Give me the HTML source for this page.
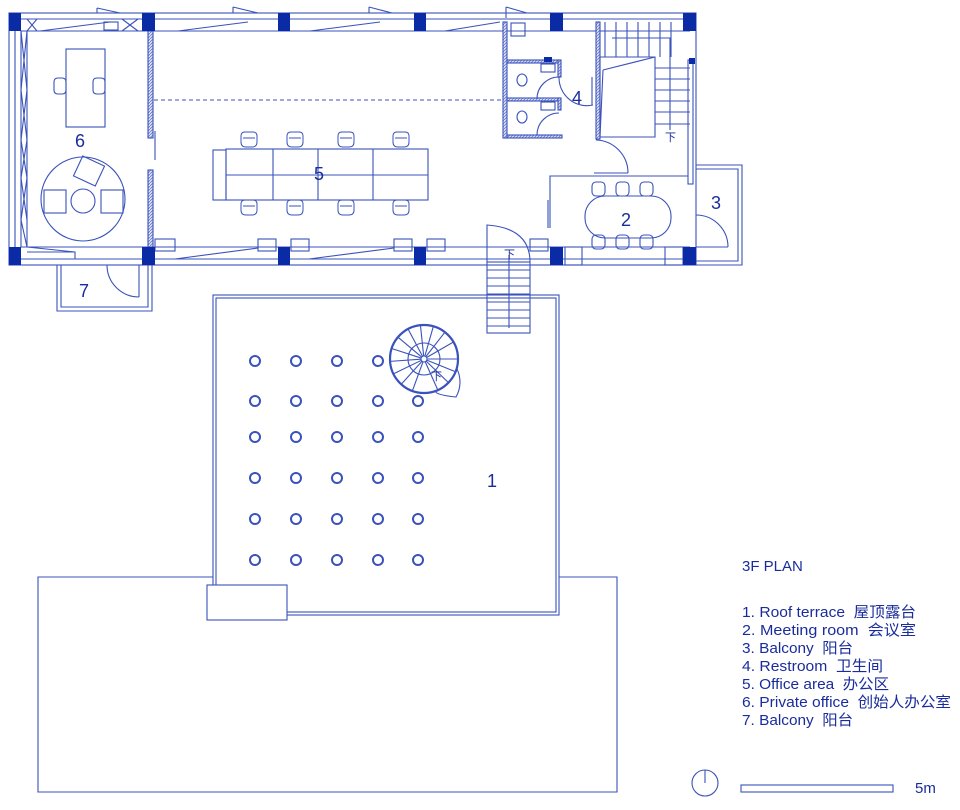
<!DOCTYPE html>
<html><head><meta charset="utf-8"><style>
html,body{margin:0;padding:0;background:#fff;}
svg{display:block;}
text{font-family:"Liberation Sans","Noto Sans CJK SC",sans-serif;fill:#1a2c9c;white-space:pre;}
</style></head><body>
<svg width="960" height="810" viewBox="0 0 960 810" xmlns="http://www.w3.org/2000/svg">
<defs>
<pattern id="h" width="3" height="3" patternUnits="userSpaceOnUse"><rect width="3" height="3" fill="#dfe3f5"/><path d="M0 3L3 0" stroke="#6676c8" stroke-width="0.8"/></pattern>
<path id="ch" d="M-8 -5q0-4 4-4h8q4 0 4 4v6q0 5-5 5h-6q-5 0-5-5z M-6 -3h12" fill="none" stroke="#3a52bc"/>
</defs>
<g fill="none" stroke="#3a52bc" stroke-width="1.1">
<!-- ground outline -->
<path d="M213 577H38V792H617V577H559"/>
<!-- terrace -->
<rect x="213" y="295" width="346" height="320"/>
<rect x="216" y="298" width="340" height="314"/>
<rect x="207" y="585" width="80" height="35" fill="#fff"/>
<!-- main building outer walls -->
<rect x="9" y="13" width="687" height="252"/>
<line x1="21" y1="19" x2="690" y2="19"/>
<line x1="21" y1="31" x2="690" y2="31"/>
<line x1="21" y1="247" x2="690" y2="247"/>
<line x1="21" y1="259" x2="690" y2="259"/>
<line x1="15" y1="31" x2="15" y2="247"/>
<line x1="21" y1="31" x2="21" y2="247"/>
<line x1="27" y1="31" x2="27" y2="247"/>
<path d="M21 31L27 90L21 140L27 178L21 220L27 247M27 31L21 90L27 140L21 178L27 220"/>
<!-- windows top -->
<path d="M97 8L120 13M97 8V13M233 7L258 13M233 7V13M369 7L392 13M369 7V13M506 7L527 13M506 7V18"/>
<path d="M40 31L110 22M178 31L248 22M310 31L380 22M445 31L500 22"/>
<rect x="104" y="22" width="14" height="8"/>
<path d="M27 19L37 31M37 19L27 31M122 19L138 31M138 19L122 31"/>
<!-- windows bottom -->
<rect x="155" y="239" width="20" height="12"/><rect x="258" y="239" width="18" height="12"/><rect x="291" y="239" width="18" height="12"/>
<rect x="394" y="239" width="18" height="12"/><rect x="427" y="239" width="18" height="12"/><rect x="530" y="239" width="18" height="12"/>
<path d="M175 259L258 248M309 259L394 248M155 259L258 259"/>
<path d="M27 252H75V259M27 247L75 252"/>
<!-- office divider -->
<rect x="148" y="31" width="5" height="107" fill="url(#h)"/>
<rect x="148" y="170" width="5" height="77" fill="url(#h)"/>
<line x1="155" y1="131" x2="155" y2="160"/>
<line x1="154" y1="100" x2="505" y2="100" stroke-dasharray="4 3"/>
<!-- private office -->
<rect x="66" y="49" width="39" height="78"/>
<path d="M54 82q0-4 4-4h4q4 0 4 4v8q0 4-4 4h-4q-4 0-4-4z"/>
<path d="M93 82q0-4 4-4h4q4 0 4 4v8q0 4-4 4h-4q-4 0-4-4z"/>
<circle cx="83" cy="199" r="42"/>
<circle cx="83" cy="201" r="12"/>
<rect x="44" y="190" width="22" height="23"/>
<rect x="101" y="190" width="22" height="23"/>
<rect x="77" y="160" width="24" height="22" transform="rotate(25 89 171)"/>
<!-- office table -->
<rect x="213" y="150" width="13" height="50"/>
<rect x="226" y="149" width="202" height="51"/>
<path d="M226 175H428M273 149V200M318 149V200M373 149V200"/>
</g>
<use href="#ch" x="249" y="141"/><use href="#ch" x="295" y="141"/><use href="#ch" x="346" y="141"/><use href="#ch" x="401" y="141"/>
<use href="#ch" x="249" y="209"/><use href="#ch" x="295" y="209"/><use href="#ch" x="346" y="209"/><use href="#ch" x="401" y="209"/>
<g fill="none" stroke="#3a52bc" stroke-width="1.1">
<!-- restroom -->
<rect x="503" y="22" width="4" height="116" fill="url(#h)"/>
<rect x="507" y="60" width="53" height="3" fill="url(#h)"/>
<rect x="507" y="98" width="53" height="3" fill="url(#h)"/>
<rect x="507" y="135" width="55" height="3" fill="url(#h)"/>
<rect x="558" y="60" width="3" height="17" fill="url(#h)"/>
<rect x="558" y="98" width="3" height="12" fill="url(#h)"/>
<rect x="511" y="23" width="14" height="13"/>
<rect x="541" y="64" width="14" height="8"/><rect x="541" y="102" width="14" height="8"/>
<ellipse cx="522" cy="80" rx="5" ry="6"/><ellipse cx="522" cy="117" rx="5" ry="6"/>
<path d="M537 99A22 22 0 0 1 559 77M559 77A28 28 0 0 0 593 105M537 135A22 22 0 0 1 559 113"/>
<line x1="592" y1="77" x2="592" y2="105"/>
<!-- stair -->
<rect x="596" y="22" width="4" height="117" fill="url(#h)"/>
<path d="M605 22V57M616 22V57M627 22V57M638 22V57M649 22V57M660 22V57M671 22V57"/>
<path d="M600 57H655V137H600Z M603 70L655 57M603 70L600 137"/>
<path d="M655 68H690M655 79H690M655 90H690M655 101H690M655 112H690M655 124H690"/>
<path d="M612 38H670V130"/>
<rect x="688" y="60" width="5" height="124"/>
<path d="M596 140A33 33 0 0 1 628 173M594 173H628"/>
<!-- meeting room -->
<path d="M550 228V176H688"/><line x1="548" y1="200" x2="548" y2="228"/>
<rect x="585" y="196" width="86" height="42" rx="20"/>
<rect x="592" y="182" width="13" height="14" rx="4"/><rect x="616" y="182" width="13" height="14" rx="4"/><rect x="640" y="182" width="13" height="14" rx="4"/>
<rect x="592" y="235" width="13" height="14" rx="4"/><rect x="616" y="235" width="13" height="14" rx="4"/><rect x="640" y="235" width="13" height="14" rx="4"/>
<rect x="565" y="247" width="17" height="18"/><rect x="665" y="247" width="18" height="18"/>
<!-- balcony 3 -->
<path d="M696 165H742V265H696M696 169H738V261H696"/>
<path d="M696 215A32 32 0 0 1 728 247M696 247H728"/>
<!-- balcony 7 -->
<path d="M57 265V311H152V265M61 265V307H148V265"/>
<path d="M107 265A32 32 0 0 0 139 297M139 265V297"/>
<!-- exterior stair -->
<rect x="487" y="262" width="43" height="71"/>
<path d="M487 270H530M487 278H530M487 286H530M487 294H530M487 302H530M487 310H530M487 318H530M487 326H530M509 255V328"/>
<path d="M487 262V225Q530 228 530 262"/>
<!-- spiral stair -->
<g transform="translate(424 359)">
<circle r="34" stroke-width="2.2"/><circle r="16"/><circle r="3"/>
<g><line x1="3" x2="34" transform="rotate(0)"/><line x1="3" x2="34" transform="rotate(22)"/><line x1="3" x2="34" transform="rotate(44)"/><line x1="3" x2="34" transform="rotate(66)"/><line x1="3" x2="34" transform="rotate(110)"/><line x1="3" x2="34" transform="rotate(132)"/><line x1="3" x2="34" transform="rotate(154)"/><line x1="3" x2="34" transform="rotate(176)"/><line x1="3" x2="34" transform="rotate(198)"/><line x1="3" x2="34" transform="rotate(220)"/><line x1="3" x2="34" transform="rotate(242)"/><line x1="3" x2="34" transform="rotate(264)"/><line x1="3" x2="34" transform="rotate(286)"/><line x1="3" x2="34" transform="rotate(308)"/><line x1="3" x2="34" transform="rotate(330)"/></g>
<path d="M33 10A30 30 0 0 1 32 38Q12 36 11 32"/>
</g>
<!-- scale -->
<circle cx="705" cy="783" r="13"/><line x1="705" y1="770" x2="705" y2="783"/>
<rect x="741" y="785" width="152" height="7"/>
</g>
<!-- columns -->
<g fill="#0b2aa6">
<rect x="9" y="13" width="12" height="18"/><rect x="142" y="13" width="13" height="18"/><rect x="278" y="13" width="12" height="18"/><rect x="414" y="13" width="12" height="18"/><rect x="550" y="13" width="13" height="18"/><rect x="683" y="13" width="13" height="18"/>
<rect x="9" y="247" width="12" height="18"/><rect x="142" y="247" width="13" height="18"/><rect x="278" y="247" width="12" height="18"/><rect x="414" y="247" width="12" height="18"/><rect x="550" y="247" width="13" height="18"/><rect x="683" y="247" width="13" height="18"/>
<rect x="544" y="57" width="8" height="5"/><rect x="689" y="58" width="6" height="6"/>
</g>
<!-- terrace circles -->
<g fill="none" stroke="#3a52bc" stroke-width="2">
<circle cx="255" cy="361" r="5"/><circle cx="296" cy="361" r="5"/><circle cx="337" cy="361" r="5"/><circle cx="378" cy="361" r="5"/>
<circle cx="255" cy="401" r="5"/><circle cx="296" cy="401" r="5"/><circle cx="337" cy="401" r="5"/><circle cx="378" cy="401" r="5"/><circle cx="418" cy="401" r="5"/>
<circle cx="255" cy="437" r="5"/><circle cx="296" cy="437" r="5"/><circle cx="337" cy="437" r="5"/><circle cx="378" cy="437" r="5"/><circle cx="418" cy="437" r="5"/>
<circle cx="255" cy="478" r="5"/><circle cx="296" cy="478" r="5"/><circle cx="337" cy="478" r="5"/><circle cx="378" cy="478" r="5"/><circle cx="418" cy="478" r="5"/>
<circle cx="255" cy="519" r="5"/><circle cx="296" cy="519" r="5"/><circle cx="337" cy="519" r="5"/><circle cx="378" cy="519" r="5"/><circle cx="418" cy="519" r="5"/>
<circle cx="255" cy="560" r="5"/><circle cx="296" cy="560" r="5"/><circle cx="337" cy="560" r="5"/><circle cx="378" cy="560" r="5"/><circle cx="418" cy="560" r="5"/>
</g>
<!-- labels -->
<g font-size="18">
<text x="487" y="487">1</text><text x="621" y="226">2</text><text x="711" y="209">3</text><text x="572" y="104">4</text><text x="314" y="180">5</text><text x="75" y="147">6</text><text x="79" y="297">7</text>
</g>
<g font-size="11"><text x="431" y="380">下</text><text x="665" y="141">下</text><text x="504" y="258">下</text></g>
<g font-size="15">
<text x="742" y="571">3F PLAN</text>
<text x="742" y="617" textLength="174" lengthAdjust="spacingAndGlyphs">1. Roof terrace  屋顶露台</text>
<text x="742" y="635" textLength="174" lengthAdjust="spacingAndGlyphs">2. Meeting room  会议室</text>
<text x="742" y="653" textLength="111" lengthAdjust="spacingAndGlyphs">3. Balcony  阳台</text>
<text x="742" y="671" textLength="141" lengthAdjust="spacingAndGlyphs">4. Restroom  卫生间</text>
<text x="742" y="689" textLength="147" lengthAdjust="spacingAndGlyphs">5. Office area  办公区</text>
<text x="742" y="707" textLength="209" lengthAdjust="spacingAndGlyphs">6. Private office  创始人办公室</text>
<text x="742" y="725" textLength="111" lengthAdjust="spacingAndGlyphs">7. Balcony  阳台</text>
<text x="915" y="793">5m</text>
</g>
</svg>
</body></html>
